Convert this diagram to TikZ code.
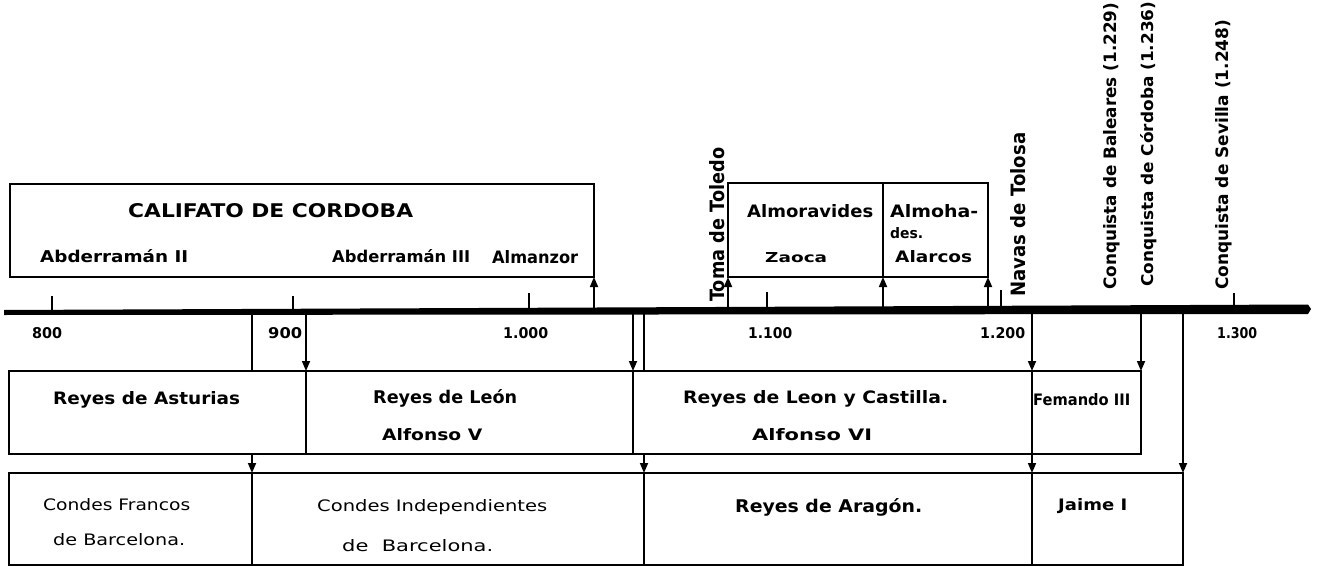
\documentclass[tikz,border=0pt]{standalone}
\usepackage{fontspec}
\setmainfont{DejaVu Sans}
\usetikzlibrary{arrows.meta}
\newcommand\fitt[3]{\resizebox{#1pt}{#2pt}{#3}}
\begin{document}
\begin{tikzpicture}[x=1pt,y=-1pt,
  box/.style={draw, line width=1.8pt, inner sep=0pt, outer sep=0pt, anchor=north west},
  lowbox/.style={draw, line width=1.5pt, inner sep=0pt, outer sep=0pt, anchor=north west},
  lbl/.style={inner sep=0pt, anchor=base west, font=\bfseries},
  thin/.style={inner sep=0pt, anchor=base west, font=\mdseries},
  conn/.style={line width=1.7pt},
  arr/.style={line width=1.7pt, -{Triangle[length=10pt,width=8pt]}},
  tk/.style={line width=2.6pt}]
\useasboundingbox[fill=white] (0,0) rectangle (1317,567);

% axis
\fill (4,310) -- (1308,304.5) -- (1311,309) -- (1308,314) -- (4,315) -- cycle;
\foreach \xx in {252,306,594,633,644,728,883,988,1032,1141,1183}{
  \coordinate (x\xx) at (\xx,311);
}
% ticks
\draw[tk] (52,296) -- (52,312);
\draw[tk] (293,296) -- (293,312);
\draw[tk] (529,293) -- (529,312);
\draw[tk] (767,292) -- (767,311);
\draw[tk] (1001,290) -- (1001,310);
\draw[tk] (1234,293) -- (1234,308);

% top boxes
\node[box, minimum width=584pt, minimum height=93pt] (califa) at (10,184) {};
\node[box, minimum width=155pt, minimum height=94pt] (almor) at (728,183) {};
\node[box, minimum width=105pt, minimum height=94pt] (almoh) at (883,183) {};
% middle row
\node[box, minimum width=297pt, minimum height=83pt] (ast) at (9,371) {};
\node[box, minimum width=327pt, minimum height=83pt] (leon) at (306,371) {};
\node[box, minimum width=399pt, minimum height=83pt] (lc) at (633,371) {};
\node[box, minimum width=109pt, minimum height=83pt] (fern) at (1032,371) {};
% bottom row
\node[lowbox, minimum width=243pt, minimum height=92pt] (fra) at (9,473) {};
\node[lowbox, minimum width=392pt, minimum height=92pt] (ind) at (252,473) {};
\node[lowbox, minimum width=388pt, minimum height=92pt] (ara) at (644,473) {};
\node[lowbox, minimum width=151pt, minimum height=92pt] (jai) at (1032,473) {};

% connectors up
\draw[arr] (x594) -- (califa.south east);
\draw[arr] (x728) -- (almor.south west);
\draw[arr] (x883) -- (almor.south east);
\draw[arr] (x988) -- (almoh.south east);
% connectors down
\draw[conn] (x252) -- (x252 |- ast.north);
\draw[arr] (x306) -- (ast.north east);
\draw[arr] (x633) -- (leon.north east);
\draw[conn] (x644) -- (x644 |- lc.north);
\draw[arr] (x1032) -- (lc.north east);
\draw[arr] (x1141) -- (fern.north east);
\draw[arr] (x1183) -- (jai.north east);
\draw[arr] (fra.north east |- ast.south) -- (fra.north east);
\draw[arr] (ind.north east |- lc.south) -- (ind.north east);
\draw[arr] (lc.south east) -- (ara.north east);

% texts top
\node[lbl] (tcal) at (128,217) {\fitt{285}{14}{CALIFATO DE CORDOBA}};
\node[lbl] (tab2) at (40,262) {\fitt{148}{13}{Abderramán II}};
\node[lbl] (tab3) at (332,262) {\fitt{138}{13}{Abderramán III}};
\node[lbl] (talm) at (492,263) {\fitt{86}{13}{Almanzor}};
\node[lbl] (tamr) at (747,217) {\fitt{126}{13}{Almoravides}};
\node[lbl] (tzao) at (765,262) {\fitt{62}{10}{Zaoca}};
\node[lbl] (tah1) at (890,217) {\fitt{88}{13}{Almoha-}};
\node[lbl] (tah2) at (890,238) {\fitt{33}{11}{des.}};
\node[lbl] (talr) at (895,262) {\fitt{77}{12}{Alarcos}};
% rotated
\node[lbl,rotate=90] (ttol) at (724,302) {\fitt{154}{15}{Toma de Toledo}};
\node[lbl,rotate=90] (tnav) at (1025,297) {\fitt{164}{15}{Navas de Tolosa}};
\node[lbl,rotate=90] (tbal) at (1116,290) {\fitt{287}{13}{Conquista de Baleares (1.229)}};
\node[lbl,rotate=90] (tcor) at (1153,287) {\fitt{285}{13}{Conquista de Córdoba (1.236)}};
\node[lbl,rotate=90] (tsev) at (1228,290) {\fitt{270}{13}{Conquista de Sevilla (1.248)}};
% years
\node[lbl] (y800) at (32,338) {\fitt{30}{11}{800}};
\node[lbl] (y900) at (268,338) {\fitt{34}{11}{900}};
\node[lbl] (y1000) at (503,338) {\fitt{45}{11}{1.000}};
\node[lbl] (y1100) at (748,338) {\fitt{44}{11}{1.100}};
\node[lbl] (y1200) at (980,338) {\fitt{45}{11}{1.200}};
\node[lbl] (y1300) at (1217,338) {\fitt{40}{11}{1.300}};
% middle row texts
\node[lbl] (tra) at (53,404) {\fitt{187}{13}{Reyes de Asturias}};
\node[lbl] (trl) at (373,403) {\fitt{144}{14}{Reyes de León}};
\node[lbl] (taf5) at (382,440) {\fitt{100}{12}{Alfonso V}};
\node[lbl] (trlc) at (683,403) {\fitt{265}{13}{Reyes de Leon y Castilla.}};
\node[lbl] (taf6) at (752,440) {\fitt{120}{12}{Alfonso VI}};
\node[lbl] (tfer) at (1033,405) {\fitt{97}{12}{Femando III}};
% bottom row texts
\node[thin] (tcf) at (43,510) {\fitt{147}{12}{Condes Francos}};
\node[thin] (tb1) at (53,545) {\fitt{132}{12}{de Barcelona.}};
\node[thin] (tci) at (317,511) {\fitt{230}{12}{Condes Independientes}};
\node[thin] (tb2) at (342,551) {\fitt{151}{12}{de\ \ Barcelona.}};
\node[lbl] (tar) at (735,512) {\fitt{187}{14}{Reyes de Aragón.}};
\node[lbl] (tjai) at (1058,510) {\fitt{69}{12}{Jaime I}};
\end{tikzpicture}
\end{document}
